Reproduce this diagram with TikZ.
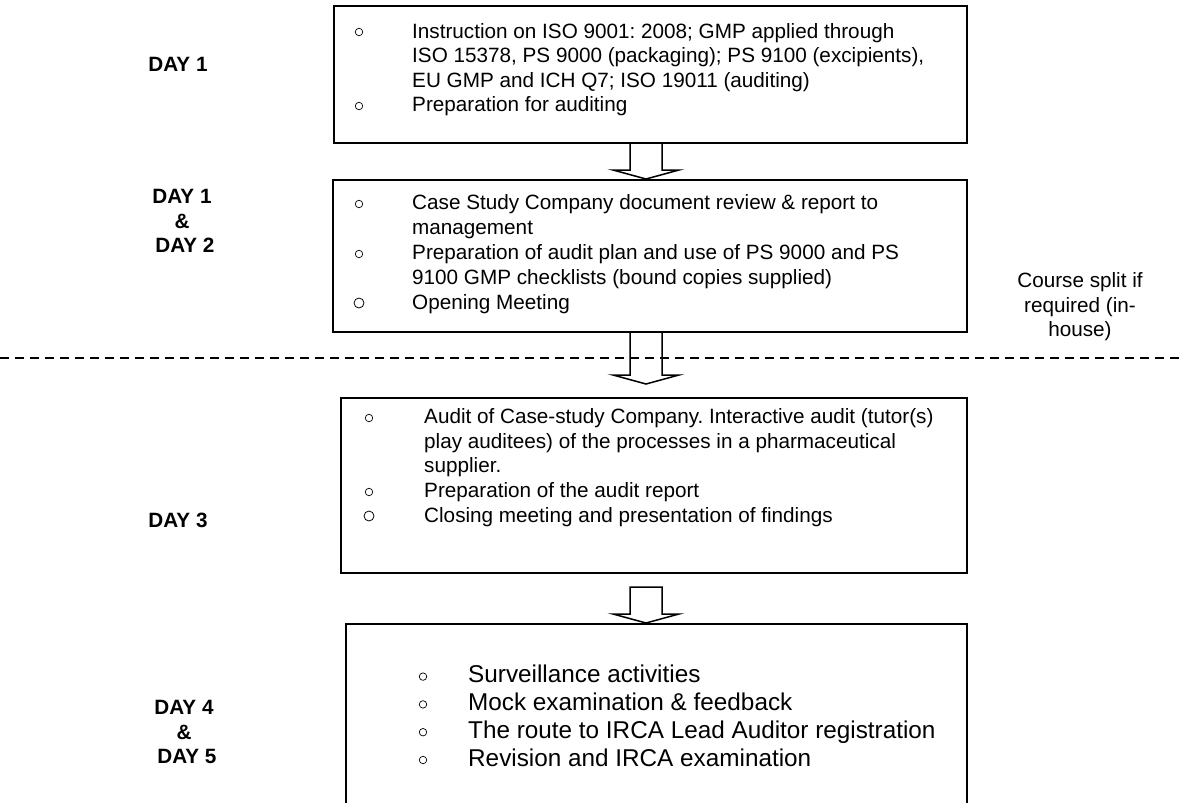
\documentclass[tikz,border=0pt]{standalone}
\usepackage{fontspec}
\setmainfont{Liberation Sans}
\usetikzlibrary{calc}
\frenchspacing
\newcommand\bodyfont{\fontsize{20.7pt}{24.5pt}\selectfont}
\newcommand\bigfont{\fontsize{24.3pt}{27.8pt}\selectfont}
\newcommand\itemtext[1]{\parbox[t]{560pt}{\raggedright #1}}
\begin{document}
\begin{tikzpicture}[x=1pt,y=-1pt,
  boxst/.style={draw, line width=1.8pt, rectangle, outer sep=0pt, inner sep=0pt, anchor=north west},
  arrowst/.style={draw, line width=1.5pt, line join=miter},
  bul/.style={circle, draw, line width=0.7pt, minimum size=7.5pt, inner sep=0pt},
  bigbul/.style={circle, draw, line width=0.8pt, minimum size=10pt, inner sep=0pt},
  txt/.style={anchor=base west, inner sep=0pt, font=\bodyfont},
  btxt/.style={anchor=base west, inner sep=0pt, font=\bigfont},
  day/.style={align=center, font=\bodyfont\bfseries, inner sep=0pt},
  sep/.style={line width=1.3pt, dash pattern=on 9pt off 6pt}]
\useasboundingbox (0,0) rectangle (1179,803);
\fill[white] (0,0) rectangle (1179,803);

% boxes
\node[boxst, minimum width=633pt, minimum height=137pt] (b1) at (334,6) {};
\node[boxst, minimum width=634pt, minimum height=152pt] (b2) at (333,180) {};
\node[boxst, minimum width=626pt, minimum height=175pt] (b3) at (341,398) {};
\node[minimum width=621pt, minimum height=180pt, anchor=north west, inner sep=0pt, outer sep=0pt] (b4) at (346,624) {};
\draw[line width=1.8pt] (346,803) -- (b4.north west) -- (b4.north east) -- (967,803);

% separator
\coordinate (sl) at (0,358);
\coordinate (sr) at (1179,358);
\draw[sep] (sl) -- (sr);

% block arrows
\coordinate (ax) at (646,0);
\newcommand\blockarrow[2]{%
  \draw[arrowst] let \p1=(#1), \p2=(#2) in
    (\x1-16pt,\y1) -- (\x1-16pt,\y2+9pt) -- (\x1-33pt,\y2+9pt) -- (\x2,\y2)
    -- (\x1+33pt,\y2+9pt) -- (\x1+16pt,\y2+9pt) -- (\x1+16pt,\y1) -- cycle;}
\coordinate (a1s) at (b1.south -| ax);
\coordinate (a1t) at ($(b2.north -| ax)+(0,-1)$);
\coordinate (a2s) at (b2.south -| ax);
\coordinate (a2t) at ($(b3.north -| ax)+(0,-14)$);
\coordinate (a3s) at ($(b3.south -| ax)+(0,14)$);
\coordinate (a3t) at ($(b4.north -| ax)+(0,-1)$);
\blockarrow{a1s}{a1t}
\blockarrow{a2s}{a2t}
\blockarrow{a3s}{a3t}

% box 1
\node[bul] (p11) at (359,32) {};
\node[txt] (t11) at (412,38) {\itemtext{Instruction on ISO 9001: 2008; GMP applied through\\ISO 15378, PS 9000 (packaging); PS 9100 (excipients),\\EU GMP and ICH Q7; ISO 19011 (auditing)}};
\node[bul] (p12) at (359,106) {};
\node[txt] (t12) at (412,111.5) {Preparation for auditing};

% box 2
\node[bul] (p21) at (359,204) {};
\node[txt] (t21) at (412,209.5) {\itemtext{Case Study Company document review \& report to\\management}};
\node[bul] (p22) at (359,254) {};
\node[txt] (t22) at (412,259.5) {\itemtext{Preparation of audit plan and use of PS 9000 and PS\\9100 GMP checklists (bound copies supplied)}};
\node[bigbul] (p23) at (359,303) {};
\node[txt] (t23) at (412,309) {Opening Meeting};

% box 3
\node[bul] (p31) at (369,418) {};
\node[txt] (t31) at (424,423.5) {\itemtext{Audit of Case-study Company. Interactive audit (tutor(s)\\play auditees) of the processes in a pharmaceutical\\supplier.}};
\node[bul] (p32) at (369,492) {};
\node[txt] (t32) at (424,497.5) {Preparation of the audit report};
\node[bigbul] (p33) at (369,516) {};
\node[txt] (t33) at (424,522) {Closing meeting and presentation of findings};

% box 4
\node[bul] (p41) at (423,676.6) {};
\node[btxt] (t41) at (468,682.6) {Surveillance activities};
\node[bul] (p42) at (423,704.4) {};
\node[btxt] (t42) at (468,710.4) {Mock examination \& feedback};
\node[bul] (p43) at (423,732.2) {};
\node[btxt] (t43) at (468,738.2) {The route to IRCA Lead Auditor registration};
\node[bul] (p44) at (423,760) {};
\node[btxt] (t44) at (468,766) {Revision and IRCA examination};

% day labels
\node[day] (d1) at (178,64) {DAY 1};
\node[day] (d2) at (182,221) {DAY 1\\\&\\\ DAY 2};
\node[day] (d3) at (178,520) {DAY 3};
\node[day] (d4) at (184,732) {DAY 4\\\&\\\ DAY 5};

% side note
\node[align=center, font=\bodyfont, inner sep=0pt] (note) at (1080,307) {Course split if\\required (in-\\house)};
\end{tikzpicture}
\end{document}
